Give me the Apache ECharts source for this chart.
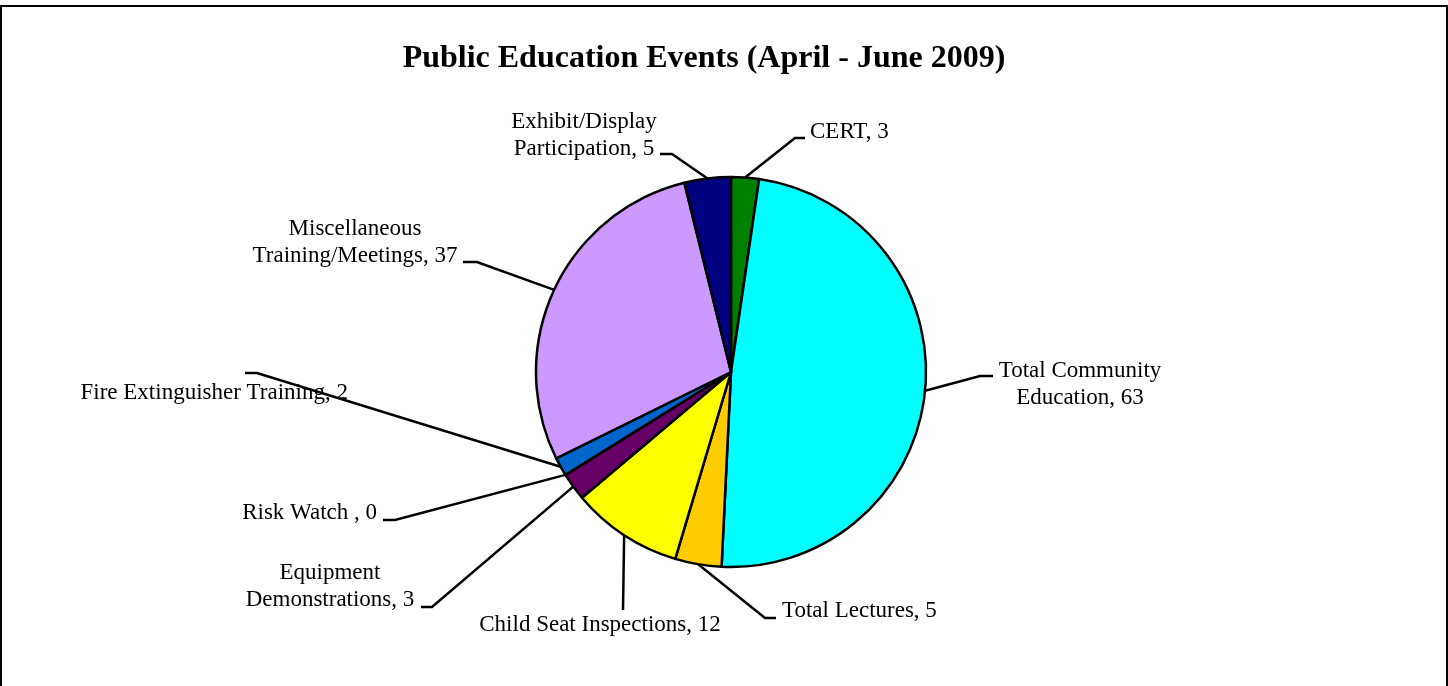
<!DOCTYPE html>
<html>
<head>
<meta charset="utf-8">
<script src="https://cdn.jsdelivr.net/npm/echarts@6/dist/echarts.min.js"></script>
<style>
html,body{margin:0;padding:0;background:#fff;}
#main{width:1448px;height:686px;}
</style>
</head>
<body>
<div id="main"></div>
<script>
// categories and values, clockwise from 12 o'clock
var categories = ['CERT', 'Total Community\nEducation', 'Total Lectures', 'Child Seat Inspections',
	'Equipment\nDemonstrations', 'Risk Watch ', 'Fire Extinguisher Training',
	'Miscellaneous\nTraining/Meetings', 'Exhibit/Display\nParticipation'];
var values = [3, 63, 5, 12, 3, 0, 2, 37, 5];
var colors = ['#008000', '#00FFFF', '#FFCC00', '#FFFF00', '#660066', '#FF8080', '#0066CC', '#CC99FF', '#000080'];

// where each label sits, and the knee/end of its leader line
var labelSpots = [
	{x: 810, y: 132, align: 'left', knee: [795, 138], end: [805, 138]},
	{x: 1080, y: 384, align: 'center', knee: [980, 376], end: [993, 376]},
	{x: 782, y: 611, align: 'left', knee: [765, 618], end: [776, 618]},
	{x: 600, y: 625, align: 'center', knee: [623, 610], end: [623, 610]},
	{x: 330, y: 586, align: 'center', knee: [432, 607], end: [421, 607]},
	{x: 377, y: 513, align: 'right', knee: [395, 520], end: [383, 520]},
	{x: 348, y: 393, align: 'right', knee: [257, 373], end: [245, 373]},
	{x: 355, y: 242, align: 'center', knee: [477, 262], end: [463, 262]},
	{x: 584, y: 135, align: 'center', knee: [672, 154], end: [660, 154]}
];

var cx = 731, cy = 372, r = 195;
var total = values.reduce(function (a, b) { return a + b; }, 0);

// leader starts on the rim at the middle of its slice
function rimPoint(i) {
	var before = 0;
	for (var k = 0; k < i; k++) before += values[k];
	var ang = (before + values[i] / 2) / total * Math.PI * 2;
	return [cx + r * Math.sin(ang), cy - r * Math.cos(ang)];
}

var pieData = categories.map(function (c, i) {
	return {name: c, value: values[i], itemStyle: {color: colors[i]}};
});

var option = {
	animation: false,
	backgroundColor: '#fff',
	title: {
		text: 'Public Education Events (April - June 2009)',
		left: 699,
		top: 38,
		textAlign: 'center',
		textStyle: {fontFamily: 'Liberation Serif', fontWeight: 'bold', fontSize: 32, color: '#000'}
	},
	graphic: [{
		type: 'rect',
		shape: {x: 1, y: 6, width: 1446, height: 700},
		style: {fill: 'none', stroke: '#000', lineWidth: 2},
		silent: true
	}],
	series: [{
		type: 'pie',
		center: [cx, cy],
		radius: [0, r],
		startAngle: 90,
		clockwise: true,
		avoidLabelOverlap: false,
		data: pieData,
		itemStyle: {borderColor: '#000', borderWidth: 2.5},
		label: {
			show: true,
			position: 'outside',
			formatter: '{b}, {c}',
			fontFamily: 'Liberation Serif',
			fontSize: 23,
			lineHeight: 27,
			color: '#000'
		},
		labelLine: {show: true, lineStyle: {color: '#000', width: 2.5}},
		labelLayout: function (p) {
			var s = labelSpots[p.dataIndex];
			return {
				x: s.x,
				y: s.y,
				align: s.align,
				verticalAlign: 'middle',
				labelLinePoints: [rimPoint(p.dataIndex), s.knee, s.end]
			};
		}
	}]
};

var myChart = echarts.init(document.getElementById('main'));
myChart.setOption(option);
</script>
</body>
</html>
